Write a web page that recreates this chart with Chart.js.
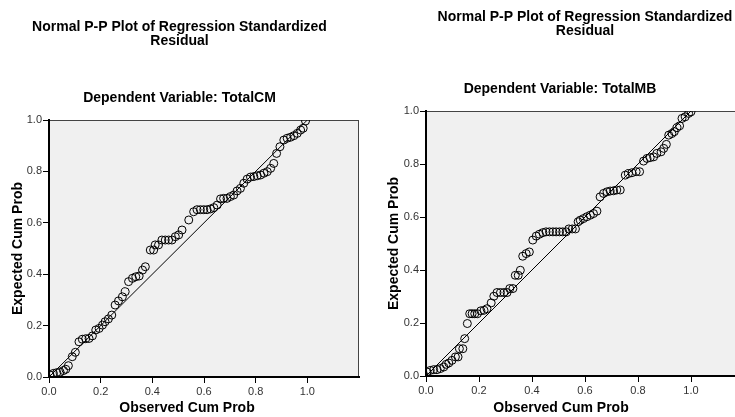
<!DOCTYPE html>
<html>
<head>
<meta charset="utf-8">
<script src="https://cdn.jsdelivr.net/npm/chart.js@4.4.1/dist/chart.umd.min.js"></script>
<style>
body{margin:0;background:#fff;overflow:hidden;width:735px;height:417px;position:relative}
canvas{position:absolute;top:0}
#graphique-cm{left:0}
#graphique-mb{left:376px}
</style>
</head>
<body>
<canvas id="graphique-cm" width="367" height="417"></canvas>
<canvas id="graphique-mb" width="377" height="417"></canvas>
<script>
const titre = ["Normal P-P Plot of Regression Standardized", "Residual"];
const xTickValues = [0, 0.2, 0.4, 0.6, 0.8, 1.0];
const yTickValues = [0, 0.2, 0.4, 0.6, 0.8, 1.0];
const diagonalX = [0, 1];
const diagonalY = [0, 1];

// TotalCM
const cmObserved = [0.004, 0.017, 0.030, 0.043, 0.056, 0.065, 0.075, 0.090, 0.102, 0.116, 0.129, 0.142, 0.155, 0.168, 0.181, 0.194, 0.207, 0.217, 0.230, 0.243,
    0.256, 0.269, 0.284, 0.295, 0.308, 0.323, 0.336, 0.349, 0.362, 0.373, 0.392, 0.405, 0.411, 0.424, 0.437, 0.450, 0.463, 0.476, 0.489, 0.502,
    0.515, 0.541, 0.560, 0.573, 0.586, 0.599, 0.612, 0.625, 0.638, 0.651, 0.664, 0.676, 0.689, 0.702, 0.715, 0.728, 0.741, 0.754, 0.767, 0.780,
    0.793, 0.806, 0.819, 0.832, 0.845, 0.858, 0.870, 0.881, 0.894, 0.909, 0.922, 0.935, 0.948, 0.961, 0.974, 0.984, 0.993];
const cmExpected = [0.008, 0.014, 0.017, 0.019, 0.025, 0.030, 0.044, 0.079, 0.096, 0.137, 0.147, 0.149, 0.150, 0.160, 0.183, 0.189, 0.202, 0.215, 0.226, 0.241,
    0.280, 0.296, 0.312, 0.332, 0.371, 0.384, 0.390, 0.393, 0.416, 0.429, 0.494, 0.494, 0.514, 0.514, 0.533, 0.533, 0.533, 0.533, 0.546, 0.553,
    0.572, 0.611, 0.643, 0.651, 0.651, 0.651, 0.651, 0.654, 0.659, 0.669, 0.693, 0.695, 0.695, 0.702, 0.708, 0.724, 0.734, 0.754, 0.770, 0.778,
    0.780, 0.783, 0.786, 0.793, 0.799, 0.812, 0.831, 0.870, 0.896, 0.922, 0.929, 0.933, 0.939, 0.948, 0.961, 0.968, 0.996];

// TotalMB
const mbObserved = [0.004, 0.016, 0.029, 0.042, 0.054, 0.067, 0.076, 0.086, 0.098, 0.111, 0.121, 0.126, 0.139, 0.146, 0.156, 0.165, 0.174, 0.184, 0.194, 0.207,
    0.219, 0.230, 0.246, 0.256, 0.268, 0.281, 0.294, 0.306, 0.316, 0.328, 0.337, 0.348, 0.356, 0.365, 0.378, 0.390, 0.403, 0.416, 0.428, 0.441,
    0.453, 0.466, 0.479, 0.491, 0.504, 0.516, 0.529, 0.539, 0.552, 0.564, 0.574, 0.582, 0.594, 0.607, 0.620, 0.632, 0.645, 0.657, 0.670, 0.683,
    0.695, 0.708, 0.720, 0.733, 0.752, 0.764, 0.777, 0.793, 0.806, 0.821, 0.834, 0.846, 0.859, 0.871, 0.887, 0.897, 0.907, 0.916, 0.928, 0.937,
    0.947, 0.957, 0.966, 0.978, 0.991, 1.000];
const mbExpected = [0.015, 0.021, 0.024, 0.024, 0.028, 0.034, 0.044, 0.049, 0.059, 0.072, 0.072, 0.103, 0.103, 0.141, 0.198, 0.235, 0.235, 0.235, 0.235, 0.246,
    0.248, 0.254, 0.276, 0.301, 0.315, 0.315, 0.315, 0.315, 0.330, 0.330, 0.380, 0.380, 0.399, 0.452, 0.462, 0.468, 0.513, 0.528, 0.535, 0.541,
    0.544, 0.544, 0.544, 0.544, 0.544, 0.544, 0.544, 0.555, 0.555, 0.555, 0.582, 0.588, 0.594, 0.601, 0.607, 0.613, 0.622, 0.676, 0.689, 0.695,
    0.698, 0.699, 0.702, 0.702, 0.758, 0.764, 0.767, 0.771, 0.771, 0.811, 0.821, 0.824, 0.827, 0.840, 0.846, 0.859, 0.874, 0.909, 0.915, 0.922,
    0.937, 0.944, 0.972, 0.978, 0.991, 0.997];

Chart.defaults.font.family = "'Liberation Sans', Arial, sans-serif";
Chart.defaults.color = "#333";

// fond gris et cadre de la zone de trace
const cadre = {
    id: "cadre",
    beforeDraw(chart) {
        const a = chart.chartArea;
        const ctx = chart.ctx;
        ctx.save();
        ctx.fillStyle = "#f0f0f0";
        ctx.fillRect(a.left, a.top, a.right - a.left, a.bottom - a.top);
        ctx.strokeStyle = "#444";
        ctx.lineWidth = 1;
        ctx.strokeRect(a.left + 0.5, a.top + 0.5, a.right - a.left - 1, a.bottom - a.top - 1);
        ctx.restore();
    }
};

// titre de l'axe x, centre sur le graphique entier comme dans SPSS
const titreAxeX = {
    id: "titreAxeX",
    afterDraw(chart, args, opts) {
        const ctx = chart.ctx;
        ctx.save();
        ctx.fillStyle = "#000";
        ctx.font = "bold 14px 'Liberation Sans', Arial, sans-serif";
        ctx.textAlign = "center";
        ctx.textBaseline = "middle";
        ctx.fillText(opts.text, opts.x, chart.height - 9);
        ctx.restore();
    }
};

function points(xs, ys) {
    return xs.map((x, i) => ({x: x, y: ys[i]}));
}

function graphiquePP(selector, observed, expected, sousTitre, place) {
    const data = {
        datasets: [{
            type: "scatter",
            data: points(observed, expected),
            pointStyle: "circle",
            pointRadius: 4,
            borderWidth: 1,
            borderColor: "#000",
            backgroundColor: "rgba(0,0,0,0)"
        }, {
            type: "line",
            data: points(diagonalX, diagonalY),
            borderColor: "#000",
            borderWidth: 1,
            pointRadius: 0,
            fill: false
        }]
    };
    const config = {
        type: "scatter",
        data: data,
        options: {
            responsive: false,
            animation: false,
            devicePixelRatio: 1,
            events: [],
            layout: {padding: {top: place.top, left: 0, right: place.right, bottom: 0}},
            plugins: {
                legend: {display: false},
                tooltip: {enabled: false},
                title: {
                    display: true,
                    text: titre,
                    color: "#000",
                    fullSize: place.fullTitle,
                    font: {size: 14, weight: "bold", lineHeight: 1.0},
                    padding: {top: 0, bottom: 0}
                },
                subtitle: {
                    display: true,
                    text: sousTitre,
                    color: "#000",
                    font: {size: 14, weight: "bold", lineHeight: 1.0},
                    padding: {top: place.subTop, bottom: 15}
                },
                titreAxeX: {text: "Observed Cum Prob", x: place.xTitleX}
            },
            scales: {
                x: {
                    type: "linear",
                    min: 0,
                    max: 1.2,
                    afterBuildTicks: scale => { scale.ticks = xTickValues.map(v => ({value: v})); },
                    afterFit: scale => { scale.height = place.xHeight; },
                    ticks: {font: {size: 11}, color: "#333", padding: 2, maxRotation: 0, callback: v => v.toFixed(1)},
                    grid: {drawOnChartArea: false, drawTicks: true, tickLength: 6, color: "#000"},
                    border: {display: true, color: "#000", width: 2}
                },
                y: {
                    type: "linear",
                    min: 0,
                    max: 1,
                    afterBuildTicks: scale => { scale.ticks = yTickValues.map(v => ({value: v})); },
                    afterFit: scale => { scale.width = place.yWidth; },
                    ticks: {font: {size: 11}, color: "#333", padding: 1, callback: v => v.toFixed(1)},
                    grid: {drawOnChartArea: false, drawTicks: true, tickLength: 6, color: "#000"},
                    border: {display: true, color: "#000", width: 2},
                    title: {display: true, text: "Expected Cum Prob", color: "#000", font: {size: 14, weight: "bold"}, padding: {top: 10, bottom: 0}}
                }
            }
        },
        plugins: [cadre, titreAxeX]
    };
    new Chart(document.querySelector(selector), config);
}

graphiquePP("#graphique-cm", cmObserved, cmExpected, "Dependent Variable: TotalCM",
    {top: 20, subTop: 43, right: 8, xHeight: 40, yWidth: 49, xTitleX: 187, fullTitle: true});
graphiquePP("#graphique-mb", mbObserved, mbExpected, "Dependent Variable: TotalMB",
    {top: 10, subTop: 44, right: 9, xHeight: 41, yWidth: 50, xTitleX: 185, fullTitle: false});
</script>
</body>
</html>
